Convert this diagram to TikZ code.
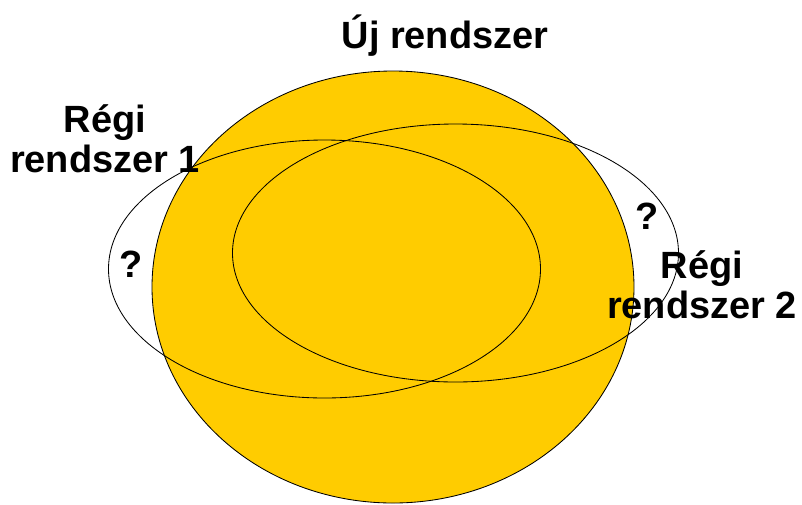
\documentclass[tikz,border=0pt]{standalone}
\usepackage{fontspec}
\setmainfont{Liberation Sans}
\definecolor{sunyellow}{RGB}{255,204,0}
\begin{document}
\begin{tikzpicture}[every node/.style={font=\fontsize{27}{28.5}\selectfont\bfseries}, outline/.style={draw=black,line width=0.6pt}]
\useasboundingbox (0,0) rectangle (20.05,-12.6);
\fill[sunyellow,outline] (9.825,-7.175) ellipse [x radius=6.025, y radius=5.4];
\draw[outline] (8.1125,-6.725) ellipse [x radius=5.4, y radius=3.225];
\draw[outline] (11.3875,-6.325) ellipse [x radius=5.575, y radius=3.225];
\node[anchor=base] (uj) at (11.125,-1.2) {Új rendszer};
\node[align=center] (regi1) at (2.625,-3.475) {Régi\\rendszer 1};
\node[align=center] (regi2) at (17.55,-7.125) {Régi\\rendszer 2};
\node (q1) at (3.275,-6.6) {?};
\node (q2) at (16.175,-5.4) {?};
\end{tikzpicture}
\end{document}
